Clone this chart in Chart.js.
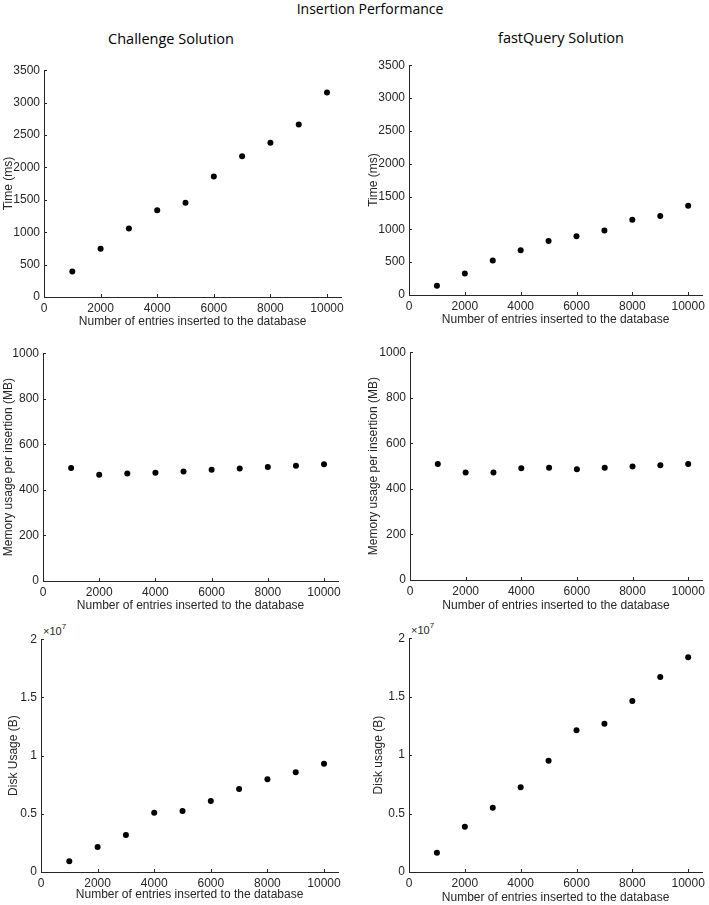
<!DOCTYPE html>
<html>
<head>
<meta charset="utf-8">
<script src="https://cdn.jsdelivr.net/npm/chart.js@4/dist/chart.umd.min.js"></script>
<style>
  html, body { margin: 0; padding: 0; background: #fff; }
  #wrap { position: relative; width: 709px; height: 905px; overflow: hidden; background: #fff; }
  canvas { position: absolute; }
  .ttl { position: absolute; font-family: "Open Sans", sans-serif; color: #000; white-space: nowrap; transform: translate(-50%, -50%); }
  .exp { position: absolute; font-family: "Liberation Sans", Arial, sans-serif; font-size: 11px; color: #262626; white-space: nowrap; }
  .exp sup { font-size: 8px; position: relative; top: -1px; }
</style>
</head>
<body>
<div id="wrap">
  <div class="ttl" style="left:370px; top:8px; font-size:14px;">Insertion Performance</div>
  <div class="ttl" style="left:171px; top:38px; font-size:14.5px;">Challenge Solution</div>
  <div class="ttl" style="left:561px; top:37px; font-size:14.5px;">fastQuery Solution</div>
  <div class="exp" style="left:43px; top:623px;">×10<sup>7</sup></div>
  <div class="exp" style="left:411px; top:622px;">×10<sup>7</sup></div>
</div>
<script>
// ---- data ----
const entries = [1000, 2000, 3000, 4000, 5000, 6000, 7000, 8000, 9000, 10000];
const xTicks = [0, 2000, 4000, 6000, 8000, 10000];

const challengeTime = [393, 746, 1058, 1339, 1456, 1860, 2171, 2381, 2662, 3157];
const fastQueryTime = [142, 329, 526, 683, 824, 895, 981, 1148, 1204, 1361];

const challengeMemory = [496, 466, 472, 475, 481, 488, 494, 500, 506, 512];
const fastQueryMemory = [509, 472, 472, 491, 493, 486, 493, 498, 504, 509];

const challengeDisk = [914000, 2140000, 3170000, 5090000, 5230000, 6110000, 7140000, 7970000, 8570000, 9290000];
const fastQueryDisk = [1640000, 3880000, 5500000, 7250000, 9520000, 12120000, 12690000, 14620000, 16690000, 18360000];

const timeTicks = [0, 500, 1000, 1500, 2000, 2500, 3000, 3500];
const memoryTicks = [0, 200, 400, 600, 800, 1000];
const diskTicks = [0, 5000000, 10000000, 15000000, 20000000];

const xTitle = 'Number of entries inserted to the database';

// ---- layout (chart areas in page pixels) ----
const panels = [
  { L: 44,  T: 69,  R: 342, B: 297, yTX: 8,   xTY: 322, ys: challengeTime,   yt: timeTicks,   yTitle: 'Time (ms)' },
  { L: 409, T: 64,  R: 707, B: 295, yTX: 373, xTY: 320, ys: fastQueryTime,   yt: timeTicks,   yTitle: 'Time (ms)' },
  { L: 43,  T: 352, R: 339, B: 581, yTX: 8,   xTY: 606, ys: challengeMemory, yt: memoryTicks, yTitle: 'Memory usage per insertion (MB)' },
  { L: 410, T: 351, R: 708, B: 580, yTX: 373, xTY: 606, ys: fastQueryMemory, yt: memoryTicks, yTitle: 'Memory usage per insertion (MB)' },
  { L: 41,  T: 638, R: 339, B: 872, yTX: 13,  xTY: 895, ys: challengeDisk,   yt: diskTicks,   yTitle: 'Disk Usage (B)', disk: true },
  { L: 409, T: 637, R: 706, B: 872, yTX: 378, xTY: 898, ys: fastQueryDisk,   yt: diskTicks,   yTitle: 'Disk usage (B)', disk: true }
];

const AX = '#262626';
const tickFont = { family: '"Liberation Sans", Arial, sans-serif', size: 12 };
const titleFont = { family: '"Liberation Sans", Arial, sans-serif', size: 12 };

// inward tick marks (MATLAB style)
const inwardTicks = {
  id: 'inwardTicks',
  afterDraw(chart) {
    const ctx = chart.ctx;
    const xs = chart.scales.x, ys = chart.scales.y;
    ctx.save();
    ctx.strokeStyle = AX;
    ctx.lineWidth = 1;
    ctx.beginPath();
    xs.ticks.forEach(t => {
      const px = Math.round(xs.getPixelForValue(t.value)) + 0.5;
      ctx.moveTo(px, xs.top);
      ctx.lineTo(px, xs.top - 3);
    });
    ys.ticks.forEach(t => {
      const py = Math.round(ys.getPixelForValue(t.value)) + 0.5;
      ctx.moveTo(ys.right, py);
      ctx.lineTo(ys.right + 3, py);
    });
    ctx.stroke();
    ctx.restore();
  }
};

const wrap = document.getElementById('wrap');
panels.forEach(p => {
  const x0 = p.yTX - 7;
  const y0 = p.T - 10;
  const x1 = Math.min(709, p.R + 6);
  const y1 = p.xTY + 7;
  const w = x1 - x0, h = y1 - y0;
  const cv = document.createElement('canvas');
  cv.style.left = x0 + 'px';
  cv.style.top = y0 + 'px';
  cv.style.width = w + 'px';
  cv.style.height = h + 'px';
  cv.width = w; cv.height = h;
  wrap.appendChild(cv);

  const yMin = p.yt[0], yMax = p.yt[p.yt.length - 1];
  new Chart(cv, {
    type: 'scatter',
    data: {
      datasets: [{
        data: entries.map((e, i) => ({ x: e, y: p.ys[i] })),
        backgroundColor: '#000',
        borderColor: '#000',
        pointRadius: 3,
        pointHoverRadius: 3,
        borderWidth: 0
      }]
    },
    options: {
      responsive: false,
      animation: false,
      devicePixelRatio: 1,
      events: [],
      layout: { padding: { top: p.T - y0, right: x1 - p.R, left: 0, bottom: 0 } },
      plugins: { legend: { display: false }, tooltip: { enabled: false } },
      scales: {
        x: {
          type: 'linear', min: 0, max: 10500,
          afterBuildTicks: s => { s.ticks = xTicks.map(v => ({ value: v })); },
          afterFit: s => { s.height = y1 - p.B; },
          grid: { display: true, drawOnChartArea: false, drawTicks: false },
          border: { display: true, color: AX, width: 1 },
          ticks: { color: AX, font: tickFont, padding: 4, maxRotation: 0, autoSkip: false,
                   callback: v => String(v) },
          title: { display: true, text: xTitle, color: AX, font: titleFont, padding: 0 }
        },
        y: {
          type: 'linear', min: yMin, max: yMax,
          afterBuildTicks: s => { s.ticks = p.yt.map(v => ({ value: v })); },
          afterFit: s => { s.width = p.L - x0; },
          grid: { display: true, drawOnChartArea: false, drawTicks: false },
          border: { display: true, color: AX, width: 1 },
          ticks: {
            color: AX, font: tickFont, padding: 4, autoSkip: false,
            callback: v => p.disk ? String(v / 1e7) : String(v)
          },
          title: { display: true, text: p.yTitle, color: AX, font: titleFont, padding: 0 }
        }
      }
    },
    plugins: [inwardTicks]
  });
});
</script>
</body>
</html>
